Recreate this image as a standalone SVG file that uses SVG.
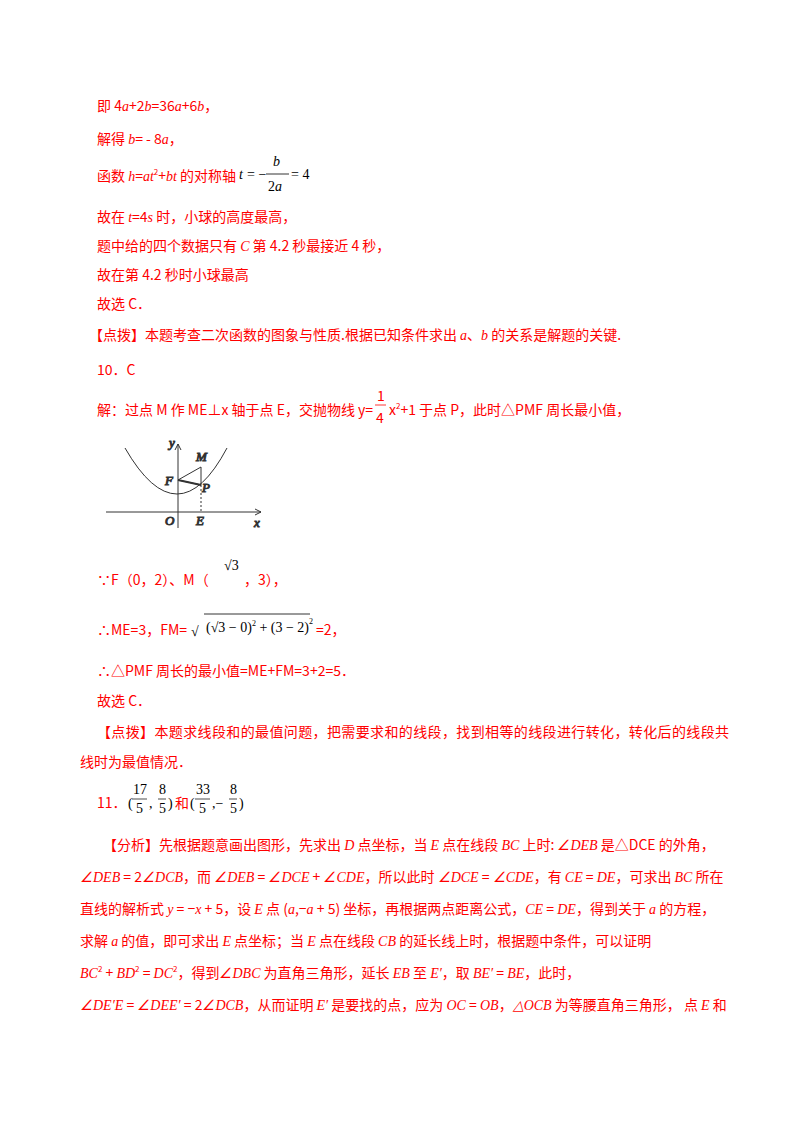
<svg xmlns="http://www.w3.org/2000/svg" width="800" height="1132" viewBox="0 0 800 1132">
<style>
text{font-family:"Noto Sans CJK SC","Noto Sans",sans-serif;font-size:14px;fill:#f00}
.m{font-family:"Liberation Serif",serif;font-style:italic}
.k{font-family:"Liberation Serif",serif;fill:#000}
.g{font-family:"Liberation Serif",serif;font-style:italic;fill:#222;font-size:13px}
</style>
<rect width="800" height="1132" fill="#fff"/>
<g id="top">
<text x="97" y="111">即 4<tspan class="m">a</tspan>+2<tspan class="m">b</tspan>=36<tspan class="m">a</tspan>+6<tspan class="m">b</tspan>，</text>
<text x="97" y="144">解得 <tspan class="m">b</tspan>= ‑ 8<tspan class="m">a</tspan>，</text>
<text x="97" y="181">函数 <tspan class="m">h</tspan>=<tspan class="m">at</tspan><tspan font-size="8" dy="-6">2</tspan><tspan dy="6">+</tspan><tspan class="m">bt</tspan> 的对称轴</text>
<text class="k" x="239" y="179" font-style="italic">t</text>
<text class="k" x="247" y="179">= −</text>
<text class="k" x="273" y="166" font-style="italic">b</text>
<line x1="266" y1="174" x2="289" y2="174" stroke="#000" stroke-width="0.8"/>
<text class="k" x="268" y="191">2<tspan font-style="italic">a</tspan></text>
<text class="k" x="291" y="179">= 4</text>
<text x="97" y="222">故在 <tspan class="m">t</tspan>=4<tspan class="m">s</tspan> 时，小球的高度最高，</text>
<text x="97" y="251">题中给的四个数据只有 <tspan class="m">C</tspan> 第 4.2 秒最接近 4 秒，</text>
<text x="97" y="280">故在第 4.2 秒时小球最高</text>
<text x="97" y="309">故选 C．</text>
<text x="89" y="340">【点拨】本题考查二次函数的图象与性质.根据已知条件求出 <tspan class="m">a</tspan>、<tspan class="m">b</tspan> 的关系是解题的关键.</text>
<text x="97" y="375">10．C</text>
<text x="97" y="415">解：过点 M 作 ME⊥x 轴于点 E，交抛物线 y=</text>
<text x="389" y="415">x<tspan font-size="8" dy="-6">2</tspan><tspan dy="6">+1 于点 P，此时△PMF 周长最小值，</tspan></text>
<text x="377" y="401" font-family="Liberation Serif">1</text>
<line x1="375" y1="405" x2="386" y2="405" stroke="#f00" stroke-width="0.8"/>
<text x="376" y="423" font-family="Liberation Serif">4</text>
</g>
<g id="graph" fill="none" stroke="#333">
<line x1="106" y1="512" x2="261" y2="512"/>
<path d="M255 509 L261 512 L255 515"/>
<line x1="178" y1="528" x2="178" y2="444"/>
<path d="M175 450 L178 444 L181 450"/>
<path d="M125 448 Q178 540 227 448"/>
<path d="M178 480 L201 467 L201 485 Z" stroke-width="1"/>
<line x1="178" y1="480" x2="201" y2="485" stroke-width="2"/>
<line x1="201" y1="485" x2="201" y2="512" stroke-dasharray="2,2"/>
<text class="g" x="169" y="447">y</text>
<text class="g" x="196" y="461">M</text>
<text class="g" x="165" y="485">F</text>
<text class="g" x="202" y="492">P</text>
<text class="g" x="165" y="525">O</text>
<text class="g" x="196" y="525">E</text>
<text class="g" x="254" y="527">x</text>
</g>
<g id="bottom">
<text x="97" y="585">∵F（0，2）、M（</text>
<text class="k" x="224" y="570" font-size="12">√3</text>
<text x="244" y="585">，3），</text>
<text x="97" y="635">∴ME=3，FM=</text>
<text class="k" x="191" y="636" font-size="24">√</text>
<line x1="204" y1="614" x2="310" y2="614" stroke="#000" stroke-width="0.8"/>
<text class="k" x="206" y="632" font-size="14">(√3 − 0)<tspan font-size="8" dy="-6">2</tspan><tspan dy="6"> + (3 − 2)</tspan><tspan font-size="8" dy="-8">2</tspan></text>
<text x="316" y="635">=2，</text>
<text x="97" y="676">∴△PMF 周长的最小值=ME+FM=3+2=5．</text>
<text x="97" y="706">故选 C．</text>
<text x="97" y="737" textLength="632">【点拨】本题求线段和的最值问题，把需要求和的线段，找到相等的线段进行转化，转化后的线段共</text>
<text x="80" y="767">线时为最值情况．</text>
<text x="97" y="808">11．</text>
<text class="k" x="128" y="808">(</text><text class="k" x="133" y="794" font-size="12">17</text><line x1="132" y1="799" x2="147" y2="799" stroke="#000" stroke-width="0.7"/><text class="k" x="136" y="813" font-size="12">5</text>
<text class="k" x="149" y="808">,</text><text class="k" x="159" y="794" font-size="12">8</text><line x1="158" y1="799" x2="166" y2="799" stroke="#000" stroke-width="0.7"/><text class="k" x="159" y="813" font-size="12">5</text><text class="k" x="168" y="808">)</text>
<text x="175" y="808">和</text>
<text class="k" x="190" y="808">(</text><text class="k" x="196" y="794" font-size="12">33</text><line x1="195" y1="799" x2="210" y2="799" stroke="#000" stroke-width="0.7"/><text class="k" x="199" y="813" font-size="12">5</text>
<text class="k" x="212" y="808">,−</text><text class="k" x="230" y="794" font-size="12">8</text><line x1="229" y1="799" x2="237" y2="799" stroke="#000" stroke-width="0.7"/><text class="k" x="230" y="813" font-size="12">5</text><text class="k" x="239" y="808">)</text>
<text x="103" y="850">【分析】先根据题意画出图形，先求出 <tspan class="m">D</tspan> 点坐标，当 <tspan class="m">E</tspan> 点在线段 <tspan class="m">BC</tspan> 上时: <tspan class="m">∠DEB</tspan> 是△DCE 的外角，</text>
<text x="80" y="882"><tspan class="m">∠DEB</tspan> = 2<tspan class="m">∠DCB</tspan>，而 <tspan class="m">∠DEB</tspan> = <tspan class="m">∠DCE</tspan> + <tspan class="m">∠CDE</tspan>，所以此时 <tspan class="m">∠DCE</tspan> = <tspan class="m">∠CDE</tspan>，有 <tspan class="m">CE</tspan> = <tspan class="m">DE</tspan>，可求出 <tspan class="m">BC</tspan> 所在</text>
<text x="80" y="914">直线的解析式 <tspan class="m">y</tspan> = −<tspan class="m">x</tspan> + 5，设 <tspan class="m">E</tspan> 点 (<tspan class="m">a</tspan>,−<tspan class="m">a</tspan> + 5) 坐标，再根据两点距离公式，<tspan class="m">CE</tspan> = <tspan class="m">DE</tspan>，得到关于 <tspan class="m">a</tspan> 的方程，</text>
<text x="80" y="946">求解 <tspan class="m">a</tspan> 的值，即可求出 <tspan class="m">E</tspan> 点坐标；当 <tspan class="m">E</tspan> 点在线段 <tspan class="m">CB</tspan> 的延长线上时，根据题中条件，可以证明</text>
<text x="80" y="978"><tspan class="m">BC</tspan><tspan font-size="8" dy="-6">2</tspan><tspan dy="6"> + </tspan><tspan class="m">BD</tspan><tspan font-size="8" dy="-6">2</tspan><tspan dy="6"> = </tspan><tspan class="m">DC</tspan><tspan font-size="8" dy="-6">2</tspan><tspan dy="6">，得到</tspan><tspan class="m">∠DBC</tspan> 为直角三角形，延长 <tspan class="m">EB</tspan> 至 <tspan class="m">E′</tspan>，取 <tspan class="m">BE′</tspan> = <tspan class="m">BE</tspan>，此时，</text>
<text x="80" y="1010"><tspan class="m">∠DE′E</tspan> = <tspan class="m">∠DEE′</tspan> = 2<tspan class="m">∠DCB</tspan>，从而证明 <tspan class="m">E′</tspan> 是要找的点，应为 <tspan class="m">OC</tspan> = <tspan class="m">OB</tspan>，<tspan class="m">△OCB</tspan> 为等腰直角三角形， 点 <tspan class="m">E</tspan> 和</text>
</g>
</svg>
